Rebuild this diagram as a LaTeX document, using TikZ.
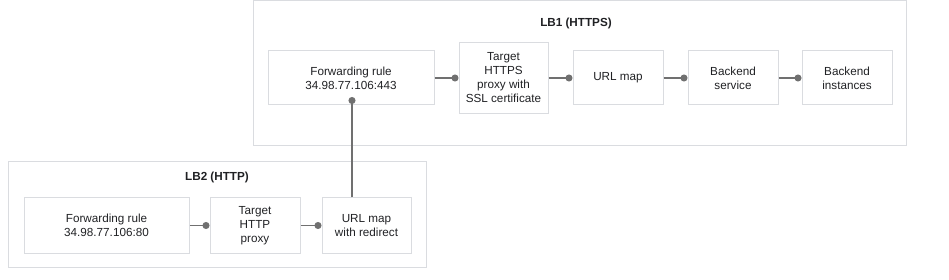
\documentclass[tikz,border=0pt]{standalone}
\usepackage{fontspec}
\setmainfont{Liberation Sans}
\usepackage{xcolor}
\usetikzlibrary{arrows.meta, positioning, calc}
\definecolor{boxgray}{RGB}{218,220,224}
\definecolor{linegray}{RGB}{112,112,112}
\definecolor{textgray}{RGB}{32,33,36}

\begin{document}
\begin{tikzpicture}[x=1pt, y=-1pt,
  every node/.style={font=\fontsize{11.7}{14}\selectfont, text=textgray},
  comp/.style={draw=boxgray, line width=1pt, minimum width=90pt, minimum height=54pt, align=center, inner sep=0pt},
  group/.style={draw=boxgray, line width=1pt},
  title/.style={font=\fontsize{11.7}{14}\selectfont\bfseries},
  conn/.style={draw=linegray, line width=1.2pt, -{Circle[length=7pt, fill=linegray]}}]
  \useasboundingbox (0,0) rectangle (949,280);

  % Groups
  \draw[group] (253,1) rectangle (906,146);
  \draw[group] (8,162) rectangle (426,267);
  \node[title] (lb1) at (576,23) {LB1 (HTTPS)};
  \node[title] (lb2) at (217,177) {LB2 (HTTP)};

  % LB1 chain
  \node[comp, minimum width=166pt] (fr1) at (351,78) {Forwarding rule\\34.98.77.106:443};
  \node[comp, minimum width=89pt, minimum height=71pt, right=24pt of fr1] (thps) {Target\\HTTPS\\proxy with\\SSL certificate};
  \node[comp, right=24pt of thps] (um) {URL map};
  \node[comp, right=24pt of um] (bs) {Backend\\service};
  \node[comp, right=23pt of bs] (bi) {Backend\\instances};

  % LB2 chain
  \node[comp, minimum width=165pt, minimum height=55pt] (fr2) at (106.5,225.5) {Forwarding rule\\34.98.77.106:80};
  \node[comp, minimum height=55pt, right=20pt of fr2] (thp) {Target\\HTTP\\proxy};
  \node[comp, minimum width=89pt, minimum height=55pt, right=21pt of thp] (umr) {URL map\\with redirect};

  % Connectors
  \draw[conn] (fr1) -- (thps);
  \draw[conn] (thps) -- (um);
  \draw[conn] (um) -- (bs);
  \draw[conn] (bs) -- (bi);
  \draw[conn] (fr2) -- (thp);
  \draw[conn] (thp) -- (umr);

  % redirect link up into LB1
  \coordinate (fr1dot) at ([xshift=1pt, yshift=8.5pt]fr1.south);
  \draw[conn] (umr.north -| fr1dot) -- (fr1dot);
\end{tikzpicture}
\end{document}
